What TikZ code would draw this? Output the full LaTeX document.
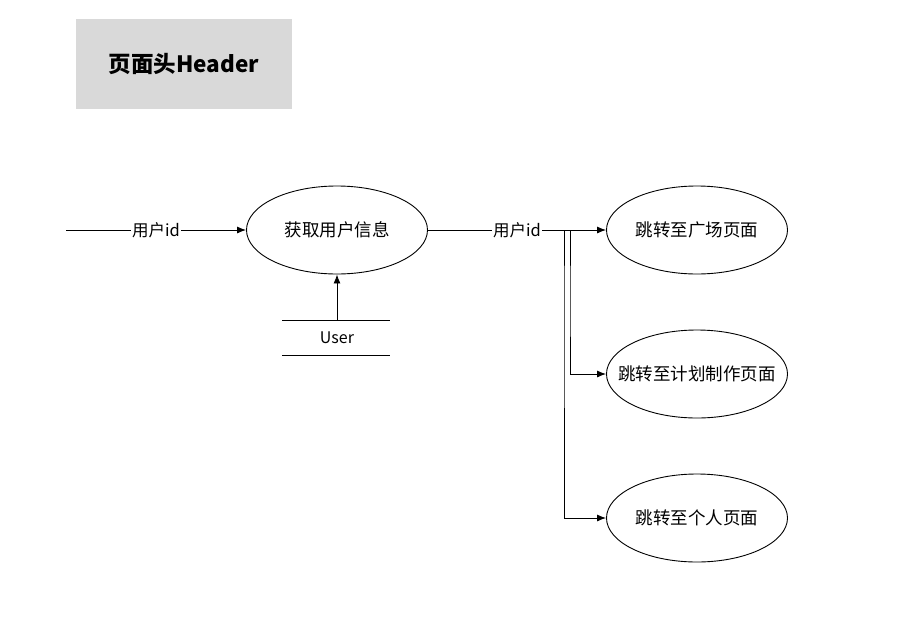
\documentclass[tikz,border=0pt]{standalone}
\usepackage{fontspec}
\setmainfont{Noto Sans CJK SC}
\usetikzlibrary{shapes.geometric,arrows.meta}
\definecolor{hdrgray}{HTML}{D9D9D9}
\newcommand{\ctext}[1]{\makebox[0pt][c]{#1}}
\begin{document}
\begin{tikzpicture}[x=1pt,y=-1pt,
  proc/.style={draw,ellipse,line width=0.9pt,minimum width=181pt,minimum height=88pt,inner sep=0pt,font=\fontsize{17.5}{19}\selectfont},
  flow/.style={line width=0.9pt,-{Latex[length=9pt,width=7pt]}},
  lbl/.style={fill=white,inner sep=1pt,font=\fontsize{16.5}{18}\selectfont}]
\useasboundingbox (0,0) rectangle (924,616);
\node[fill=hdrgray,minimum width=216pt,minimum height=90pt,inner sep=0pt,font=\fontsize{22.5}{24}\selectfont\bfseries] (hdr) at (184,64) {页面头Header};
\node[proc] (get) at (337,230) {\ctext{获取用户信息}};
\node[proc] (sq) at (697,230) {\ctext{跳转至广场页面}};
\node[proc] (plan) at (697,374) {\ctext{跳转至计划制作页面}};
\node[proc] (me) at (697,518) {\ctext{跳转至个人页面}};
\coordinate (in) at (66,230);
\coordinate (ds) at (337,320);
\draw[line width=0.9pt] (282,320) -- (390,320);
\draw[line width=0.9pt] (282,355) -- (390,355);
\node[font=\fontsize{16}{18}\selectfont] (user) at (337,337.5) {User};
\draw[flow] (in) -- node[lbl] {用户id} (get);
\draw[flow] (ds) -- (get.south);
\draw[flow] (get.east) -| (564,300) |- (me.west);
\draw[flow] (get.east) -| (570,300) |- (plan.west);
\draw[flow] (get.east) -- node[lbl,pos=0.50] {用户id} (sq.west);
\end{tikzpicture}
\end{document}
